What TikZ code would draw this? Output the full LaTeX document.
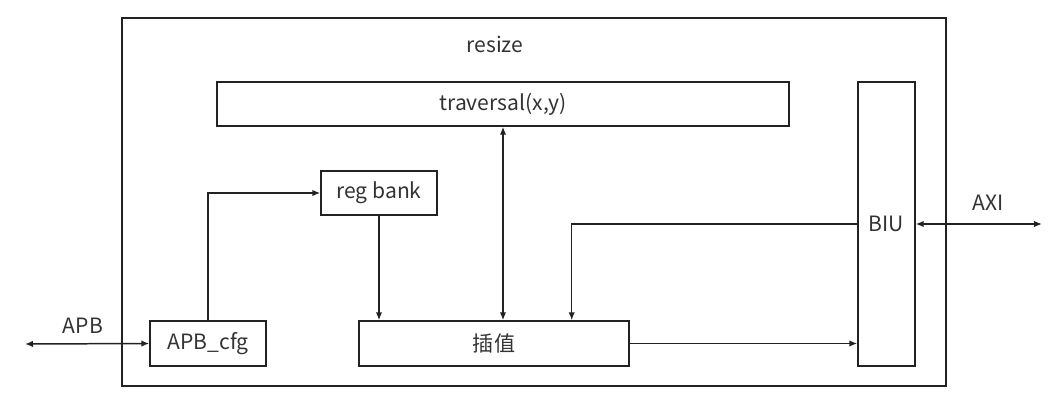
\documentclass[tikz,border=0pt]{standalone}
\usepackage{fontspec}
\setmainfont{Noto Sans CJK SC}
\usetikzlibrary{arrows.meta,calc}
\definecolor{ink}{HTML}{222222}
\definecolor{txt}{HTML}{333333}
\begin{document}
\begin{tikzpicture}[x=0.02cm,y=-0.02cm,
  box/.style={draw=ink,line width=0.85pt,inner sep=0pt,text=txt,font=\fontsize{12pt}{14pt}\selectfont},
  lbl/.style={inner sep=0pt,text=txt,font=\fontsize{12pt}{14pt}\selectfont},
  conn/.style={draw=ink,line width=0.85pt,arrows={-Latex[length=1.6mm,width=1.3mm]}},
  bconn/.style={draw=ink,line width=0.85pt,arrows={Latex[length=1.6mm,width=1.3mm]-Latex[length=1.6mm,width=1.3mm]}}]
\useasboundingbox (0,0) rectangle (1063,406);
\node[box,minimum width=16.48cm,minimum height=7.36cm] (outer) at (534,202) {};
\node[lbl] (resize) at (495,44) {resize};
\node[box,minimum width=11.44cm,minimum height=0.88cm] (trav) at (503,104) {traversal(x,y)};
\node[box,minimum width=2.32cm,minimum height=0.88cm] (regbank) at (379,193) {reg bank};
\node[box,minimum width=2.32cm,minimum height=0.9cm] (apbcfg) at (208,343.5) {APB\_cfg};
\node[box,minimum width=5.4cm,minimum height=0.9cm] (chazhi) at (494,343.5) {插值};
\node[box,minimum width=1.14cm,minimum height=5.68cm] (biu) at (886.5,224) {BIU};
\node[lbl] (apb) at (83,326) {APB};
\node[lbl] (axi) at (988,203) {AXI};
\coordinate (apbL) at (25,344);
\coordinate (axiR) at (1042,224);
\draw[bconn] (apbL) -- (apbcfg.west);
\draw[bconn] (biu.east) -- (axiR);
\draw[conn] (apbcfg.north) |- (regbank.west);
\draw[conn] (regbank.south) -- (regbank.south |- chazhi.north);
\draw[bconn] (trav.south) -- (trav.south |- chazhi.north);
\draw[conn] (biu.west) -| ($(chazhi.north east)+(-58,0)$);
\draw[conn] (chazhi.east) -- (chazhi.east -| biu.west);
\end{tikzpicture}
\end{document}
